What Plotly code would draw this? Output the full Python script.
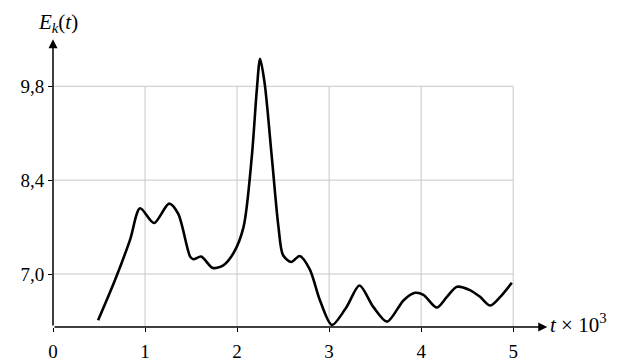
import plotly.graph_objects as go

t_vals = [0.49, 0.674, 0.837, 0.946, 1.098, 1.261, 1.36, 1.49, 1.525, 1.61, 1.736, 1.85, 1.96,
          2.07, 2.16, 2.214, 2.25, 2.30, 2.377, 2.45, 2.50, 2.59, 2.68, 2.79, 2.90, 3.03,
          3.19, 3.33, 3.48, 3.63, 3.81, 3.935, 4.025, 4.17, 4.28, 4.39, 4.53, 4.64, 4.75,
          4.86, 4.985]
e_vals = [6.31, 6.91, 7.51, 7.98, 7.76, 8.05, 7.90, 7.26, 7.22, 7.26, 7.09, 7.13, 7.31,
          7.70, 8.75, 9.74, 10.21, 9.84, 8.75, 7.70, 7.28, 7.18, 7.27, 7.07, 6.61, 6.24,
          6.51, 6.83, 6.51, 6.29, 6.61, 6.72, 6.69, 6.50, 6.66, 6.81, 6.76, 6.66, 6.53,
          6.66, 6.87]

x_ticks = [0, 1, 2, 3, 4, 5]
y_ticks = [7.0, 8.4, 9.8]
y_tick_text = ["7,0", "8,4", "9,8"]

Y0 = 6.21
XMAX_GRID = 5
YMAX_GRID = 9.8
FONT = "Times New Roman, Liberation Serif, serif"

fig = go.Figure()
fig.add_trace(go.Scatter(x=t_vals, y=e_vals, mode="lines",
                         line=dict(color="black", width=2.6, shape="spline", smoothing=0.8),
                         showlegend=False, hoverinfo="skip"))

shapes = []
for xv in x_ticks[1:]:
    shapes.append(dict(type="line", xref="x", yref="y", x0=xv, x1=xv, y0=Y0, y1=YMAX_GRID,
                       line=dict(color="#c8c8c8", width=1), layer="below"))
for yv in y_ticks:
    shapes.append(dict(type="line", xref="x", yref="y", x0=0, x1=XMAX_GRID, y0=yv, y1=yv,
                       line=dict(color="#c8c8c8", width=1), layer="below"))

annotations = [
    dict(x=0, y=10.5, ax=0, ay=Y0, xref="x", yref="y", axref="x", ayref="y",
         showarrow=True, arrowhead=2, arrowsize=1.2, arrowwidth=1.5, arrowcolor="black", text=""),
    dict(x=5.37, y=Y0, ax=0, ay=Y0, xref="x", yref="y", axref="x", ayref="y",
         showarrow=True, arrowhead=2, arrowsize=1.2, arrowwidth=1.5, arrowcolor="black", text=""),
]

fig.update_layout(
    width=618, height=355,
    margin=dict(l=45, r=76, t=28, b=36, autoexpand=False),
    plot_bgcolor="white", paper_bgcolor="white",
    font=dict(family=FONT, size=19, color="black"),
    xaxis=dict(range=[0, 5.4], showgrid=False, zeroline=False, showline=False, automargin=False,
               tickvals=x_ticks, ticktext=[str(v) for v in x_ticks],
               ticks="outside", ticklen=4, tickcolor="black", ticklabelstandoff=3),
    yaxis=dict(range=[Y0, 10.55], showgrid=False, zeroline=False, showline=False, automargin=False,
               tickvals=y_ticks, ticktext=y_tick_text,
               ticks="outside", ticklen=4, tickcolor="black", ticklabelstandoff=0),
    shapes=shapes,
    annotations=annotations,
)

fig.add_annotation(x=0, y=1, xref="paper", yref="paper", xanchor="center", yanchor="bottom",
                   xshift=5, yshift=-2, showarrow=False,
                   text="<i>E</i><sub><i>k</i></sub>(<i>t</i>)", font=dict(family=FONT, size=21))
fig.add_annotation(x=5.37, y=Y0, xref="x", yref="y", xanchor="left", yanchor="middle",
                   xshift=1, yshift=4, showarrow=False,
                   text="<i>t</i> × 10<sup>3</sup>", font=dict(family=FONT, size=21))

fig.write_html("out.html")
